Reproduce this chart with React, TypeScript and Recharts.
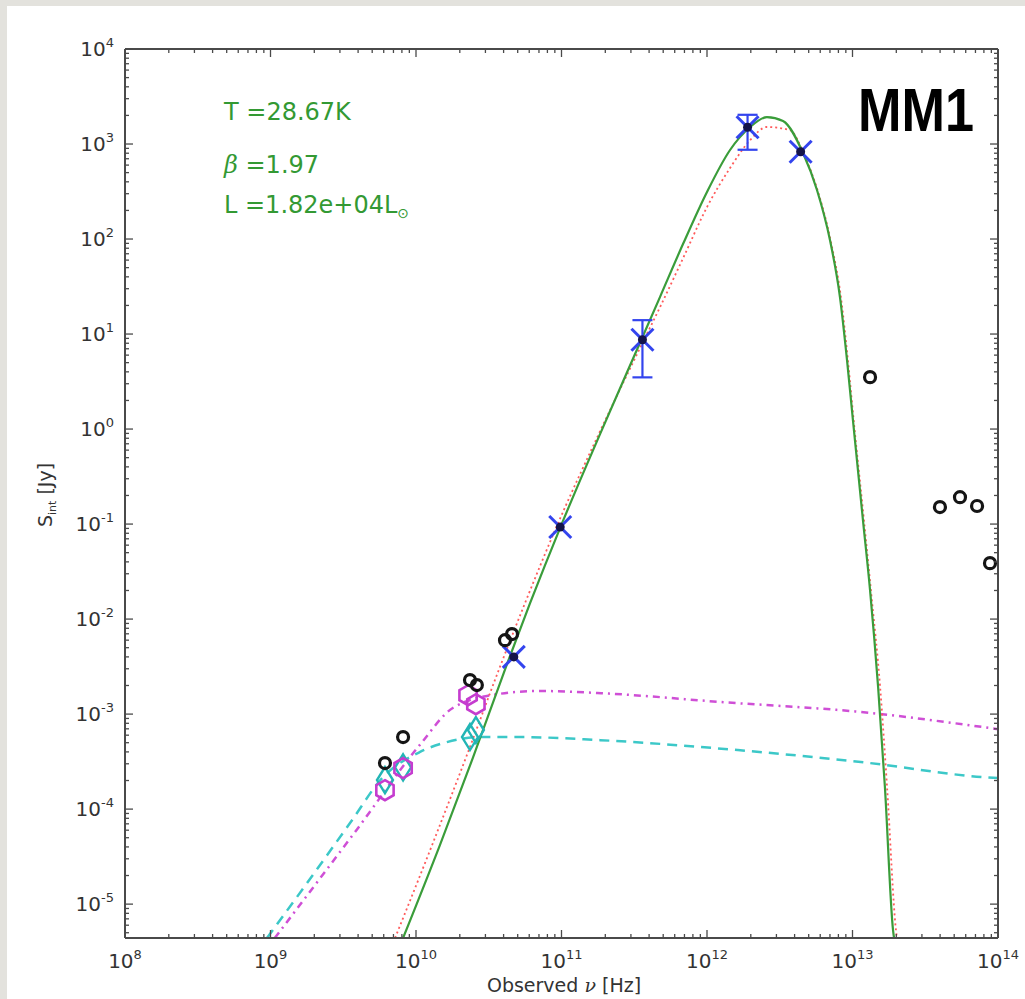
import React from "react";
import { ComposedChart, Line, Scatter, XAxis, YAxis, ErrorBar } from "recharts";

// SED of MM1: frequency [Hz] vs integrated flux [Jy]
const greybodyFit: [number, number][] = [
  [8.15e9, 4.4e-6], [1.46e10, 4.18e-5], [2.47e10, 3.52e-4], [4.22e10, 3.36e-3],
  [6.08e10, 1.47e-2], [9.77e10, 9.08e-2], [1.84e11, 0.885], [3.63e11, 9.53],
  [4.75e11, 24.5], [6.84e11, 88.5], [1.0e12, 313], [1.44e12, 865],
  [1.98e12, 1510], [2.58e12, 1920], [3.33e12, 1750], [4.57e12, 803],
  [5.7e12, 328], [7.0e12, 97.5], [8.2e12, 24.5], [9.17e12, 5.32],
  [1.007e13, 1.24], [1.18e13, 0.11], [1.32e13, 0.0202], [1.5e13, 1.92e-3],
  [1.67e13, 1.71e-4], [1.9e13, 5.3e-6], [1.93e13, 4.4e-6],
];

const thinFit: [number, number][] = [
  [7.18e9, 4.4e-6], [1.29e10, 4.18e-5], [2.21e10, 3.52e-4], [3.84e10, 3.36e-3],
  [5.61e10, 1.47e-2], [9.16e10, 9.08e-2], [1.78e11, 0.85], [3.63e11, 8.24],
  [4.83e11, 20.2], [6.95e11, 66], [1.0e12, 217], [1.44e12, 558],
  [1.98e12, 1100], [2.58e12, 1510], [3.72e12, 1400], [4.72e12, 730],
  [5.8e12, 313], [7.11e12, 93], [8.34e12, 23.9], [9.31e12, 5.2],
  [1.02e13, 1.21], [1.2e13, 0.108], [1.34e13, 0.0197], [1.55e13, 1.88e-3],
  [1.73e13, 1.66e-4], [1.99e13, 5.3e-6], [2.02e13, 4.4e-6],
];

const freeFreeCyan: [number, number][] = [
  [9.46e8, 4.4e-6], [1.78e9, 1.66e-5], [3.52e9, 7.13e-5], [5.93e9, 2.17e-4],
  [1.06e10, 3.98e-4], [1.63e10, 5.07e-4], [2.75e10, 5.73e-4], [5.19e10, 5.73e-4],
  [1.84e11, 5.32e-4], [1.63e12, 4.18e-4], [1.32e13, 3.05e-4], [7.89e13, 2.17e-4],
  [1e14, 2.12e-4],
];

const freeFreeMagenta: [number, number][] = [
  [1.07e9, 4.4e-6], [3.94e9, 6.15e-5], [1.06e10, 4.72e-4], [1.79e10, 1.16e-3],
  [3.61e10, 1.62e-3], [7.11e10, 1.75e-3], [1.87e11, 1.66e-3], [1.25e12, 1.34e-3],
  [1.32e13, 1.03e-3], [7.89e13, 7.3e-4], [1e14, 6.95e-4],
];

const dustPoints: [number, number][] = [
  [1.9e12, 1500], [4.4e12, 830], [3.6e11, 8.7], [9.8e10, 0.093], [4.7e10, 4.0e-3],
];
// [nu, S, lower error, upper error]
const dustErrors: [number, number, number, number][] = [
  [1.9e12, 1500, 630, 530],
  [3.6e11, 8.7, 5.2, 5.3],
];

const otherPoints: [number, number][] = [
  [4.09e10, 6.0e-3], [4.57e10, 6.95e-3], [2.35e10, 2.28e-3], [2.62e10, 2.02e-3],
  [8.15e9, 5.73e-4], [6.12e9, 3.05e-4], [1.32e13, 3.52], [3.99e13, 0.151],
  [5.48e13, 0.192], [7.18e13, 0.155], [8.81e13, 0.0388],
];

const hexPoints: [number, number][] = [
  [6.12e9, 1.58e-4], [8.15e9, 2.7e-4], [2.28e10, 1.58e-3], [2.58e10, 1.27e-3],
];

const diamondPoints: [number, number][] = [
  [6.12e9, 2.02e-4], [8.15e9, 2.75e-4], [2.35e10, 5.73e-4], [2.58e10, 6.8e-4],
];

const xMajor = [1e8, 1e9, 1e10, 1e11, 1e12, 1e13, 1e14];
const yMajor = [1e-5, 1e-4, 1e-3, 1e-2, 1e-1, 1, 10, 100, 1000, 10000];
const X_DOMAIN: [number, number] = [1e8, 1e14];
const Y_DOMAIN: [number, number] = [4.4e-6, 1e4];

const withMinors = (majors: number[], lo: number, hi: number) => {
  const out: number[] = [];
  const decades = [majors[0] / 10, ...majors];
  decades.forEach((d) => {
    for (let k = 1; k < 10; k++) {
      const v = d * k;
      if (v >= lo * 0.999 && v <= hi * 1.001) out.push(v);
    }
  });
  return out;
};
const xTicks = withMinors(xMajor, X_DOMAIN[0], X_DOMAIN[1]);
const yTicks = withMinors(yMajor, Y_DOMAIN[0], Y_DOMAIN[1]);

const toXY = (arr: [number, number][]) => arr.map(([x, y]) => ({ x, y }));

const AX = "#4a4a4a";
const LABEL = "#333";
const FONT = "DejaVu Sans";

const isMajor = (v: number) => Math.abs(Math.log10(v) - Math.round(Math.log10(v))) < 1e-6;
const expText = (v: number) => {
  const e = Math.round(Math.log10(v));
  return e < 0 ? "-" + Math.abs(e) : String(e);
};

const BottomTick = (props: any) => {
  const { x, y, payload } = props;
  const m = isMajor(payload.value);
  return (
    <g>
      <line x1={x} x2={x} y1={y} y2={y - (m ? 8 : 4)} stroke={AX} strokeWidth={1.3} />
      {m && (
        <text x={x} y={y + 30} textAnchor="middle" fontSize={20} fill={LABEL} fontFamily={FONT}>
          10<tspan dy={-9} fontSize={13}>{expText(payload.value)}</tspan>
        </text>
      )}
    </g>
  );
};

const TopTick = (props: any) => {
  const { x, y, payload } = props;
  const m = isMajor(payload.value);
  return <line x1={x} x2={x} y1={y} y2={y + (m ? 8 : 4)} stroke={AX} strokeWidth={1.3} />;
};

const LeftTick = (props: any) => {
  const { x, y, payload } = props;
  const m = isMajor(payload.value);
  return (
    <g>
      <line x1={x} x2={x + (m ? 8 : 4)} y1={y} y2={y} stroke={AX} strokeWidth={1.3} />
      {m && (
        <text x={x - 11} y={y + 7} textAnchor="end" fontSize={20} fill={LABEL} fontFamily={FONT}>
          10<tspan dy={-9} fontSize={13}>{expText(payload.value)}</tspan>
        </text>
      )}
    </g>
  );
};

const RightTick = (props: any) => {
  const { x, y, payload } = props;
  const m = isMajor(payload.value);
  return <line x1={x} x2={x - (m ? 8 : 4)} y1={y} y2={y} stroke={AX} strokeWidth={1.3} />;
};

const BlueCross = (p: any) => {
  const { cx, cy } = p;
  if (cx == null || cy == null) return <g />;
  const s = 11;
  return (
    <g>
      <line x1={cx - s} y1={cy - s} x2={cx + s} y2={cy + s} stroke="#3344ee" strokeWidth={3} />
      <line x1={cx - s} y1={cy + s} x2={cx + s} y2={cy - s} stroke="#3344ee" strokeWidth={3} />
      <circle cx={cx} cy={cy} r={4.5} fill="#14144a" />
    </g>
  );
};

const OpenCircle = (p: any) => {
  const { cx, cy } = p;
  if (cx == null || cy == null) return <g />;
  return <circle cx={cx} cy={cy} r={5.5} fill="none" stroke="#151515" strokeWidth={3.2} />;
};

const Hexagon = (p: any) => {
  const { cx, cy } = p;
  if (cx == null || cy == null) return <g />;
  const r = 10;
  const pts = [0, 1, 2, 3, 4, 5]
    .map((i) => {
      const a = (Math.PI / 3) * i - Math.PI / 2;
      return `${cx + r * Math.cos(a)},${cy + r * Math.sin(a)}`;
    })
    .join(" ");
  return <polygon points={pts} fill="none" stroke="#c53ccf" strokeWidth={2.6} />;
};

const ThinDiamond = (p: any) => {
  const { cx, cy } = p;
  if (cx == null || cy == null) return <g />;
  const w = 8;
  const h = 13;
  return (
    <polygon
      points={`${cx},${cy - h} ${cx + w},${cy} ${cx},${cy + h} ${cx - w},${cy}`}
      fill="none"
      stroke="#22b5b5"
      strokeWidth={2.4}
    />
  );
};

const Empty = () => <g />;

export default function App() {
  const errData = dustErrors.map(([x, y, lo, hi]) => ({ x, y, err: [lo, hi] }));
  return (
    <div style={{ position: "absolute", left: 0, top: 0, width: 1025, height: 999, background: "#e3e2dd" }}>
      <div style={{ position: "absolute", left: 7, top: 6, width: 1018, height: 993, background: "#fff" }} />
      <div style={{ position: "absolute", left: 0, top: 0 }}>
        <ComposedChart width={1025} height={999} margin={{ top: 0, right: 0, bottom: 0, left: 0 }}>
          <XAxis
            dataKey="x"
            type="number"
            scale="log"
            domain={X_DOMAIN}
            allowDataOverflow
            ticks={xTicks}
            interval={0}
            tick={<BottomTick />}
            tickLine={false}
            tickSize={0}
            tickMargin={0}
            height={61}
            axisLine={{ stroke: AX, strokeWidth: 2 }}
          />
          <XAxis
            xAxisId="top"
            orientation="top"
            dataKey="x"
            type="number"
            scale="log"
            domain={X_DOMAIN}
            allowDataOverflow
            ticks={xTicks}
            interval={0}
            tick={<TopTick />}
            tickLine={false}
            tickSize={0}
            tickMargin={0}
            height={49}
            axisLine={{ stroke: AX, strokeWidth: 2 }}
          />
          <YAxis
            dataKey="y"
            type="number"
            scale="log"
            domain={Y_DOMAIN}
            allowDataOverflow
            ticks={yTicks}
            interval={0}
            tick={<LeftTick />}
            tickLine={false}
            tickSize={0}
            tickMargin={0}
            width={125}
            axisLine={{ stroke: AX, strokeWidth: 2 }}
          />
          <YAxis
            yAxisId="right"
            orientation="right"
            dataKey="y"
            type="number"
            scale="log"
            domain={Y_DOMAIN}
            allowDataOverflow
            ticks={yTicks}
            interval={0}
            tick={<RightTick />}
            tickLine={false}
            tickSize={0}
            tickMargin={0}
            width={27}
            axisLine={{ stroke: AX, strokeWidth: 2 }}
          />

          <Line data={toXY(freeFreeCyan)} dataKey="y" type="monotone" stroke="#3cc8c8" strokeWidth={2.5}
            strokeDasharray="10 7" dot={false} isAnimationActive={false} />
          <Line data={toXY(freeFreeMagenta)} dataKey="y" type="monotone" stroke="#cf4fd6" strokeWidth={2.5}
            strokeDasharray="7 5 2 5" dot={false} isAnimationActive={false} />
          <Line data={toXY(thinFit)} dataKey="y" type="monotone" stroke="#ff5a5a" strokeWidth={1.8}
            strokeDasharray="2 3" dot={false} isAnimationActive={false} />
          <Line data={toXY(greybodyFit)} dataKey="y" type="monotone" stroke="#3a9d3a" strokeWidth={2.2}
            dot={false} isAnimationActive={false} />

          <Scatter data={toXY(diamondPoints)} shape={<ThinDiamond />} isAnimationActive={false} />
          <Scatter data={toXY(hexPoints)} shape={<Hexagon />} isAnimationActive={false} />
          <Scatter data={errData} shape={<Empty />} isAnimationActive={false}>
            <ErrorBar dataKey="err" direction="y" width={10} stroke="#3344ee" strokeWidth={2.2} isAnimationActive={false} />
          </Scatter>
          <Scatter data={toXY(dustPoints)} shape={<BlueCross />} isAnimationActive={false} />
          <Scatter data={toXY(otherPoints)} shape={<OpenCircle />} isAnimationActive={false} />
        </ComposedChart>
      </div>
      <svg width={1025} height={999} style={{ position: "absolute", left: 0, top: 0, pointerEvents: "none" }}>
        <g fill="#339933" fontFamily={FONT} fontSize={24}>
          <text x={224} y={120}>T =28.67K</text>
          <text x={224} y={173}>
            <tspan fontStyle="italic" fontFamily="DejaVu Serif">β</tspan> =1.97
          </text>
          <text x={224} y={213}>
            L =1.82e+04L<tspan fontSize={14} dy={5}>⊙</tspan>
          </text>
        </g>
        <text x={858} y={131} fontSize={61} fontWeight="bold" fontFamily="Liberation Sans" fill="#000"
          textLength={116} lengthAdjust="spacingAndGlyphs">MM1</text>
        <text x={564} y={992} textAnchor="middle" fontSize={19} fill={LABEL} fontFamily={FONT}>
          Observed <tspan fontStyle="italic" fontFamily="DejaVu Serif">ν</tspan> [Hz]
        </text>
        <text transform="translate(52,495) rotate(-90)" textAnchor="middle" fontSize={19} fill={LABEL} fontFamily={FONT}>
          S<tspan fontSize={11} dy={4}>int</tspan><tspan dy={-4}> [Jy]</tspan>
        </text>
      </svg>
    </div>
  );
}
